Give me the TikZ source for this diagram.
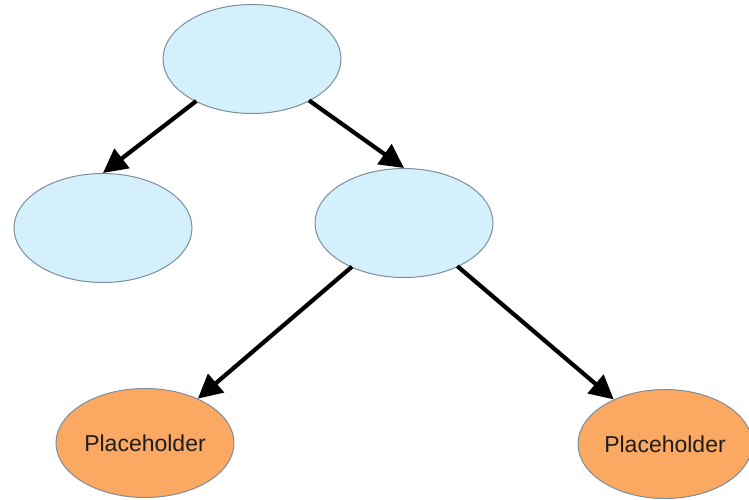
\documentclass[tikz,border=0pt]{standalone}
\usepackage{fontspec}
\setmainfont{Liberation Sans}
\usetikzlibrary{shapes.geometric,arrows.meta}
\definecolor{nodeblue}{HTML}{D5F0FD}
\definecolor{nodeorange}{HTML}{FBA862}
\definecolor{rimgray}{HTML}{7D8E9A}
\definecolor{labelink}{HTML}{1E1E1E}
\tikzset{
  blob/.style={ellipse, draw=rimgray, line width=1pt, inner sep=0pt,
    minimum width=178pt, minimum height=109pt},
  inner/.style={blob, fill=nodeblue},
  leaf/.style={blob, fill=nodeorange, text=labelink,
    font=\fontsize{23}{27}\selectfont},
  link/.style={line width=4.2pt, draw=black,
    -{Triangle[length=24pt,width=24pt]}, shorten <=-1pt}
}
\begin{document}
\begin{tikzpicture}[x=1pt,y=-1pt]
  \useasboundingbox (0,0) rectangle (749,499);
  \node[inner] (root)  at (252,59)  {};
  \node[inner] (left)  at (103,228) {};
  \node[inner] (mid)   at (404,223) {};
  \node[leaf]  (leafa) at (145,443) {Placeholder};
  \node[leaf, minimum width=174pt] (leafb) at (665,444) {Placeholder};
  \draw[link] (root.217) -- (left.north);
  \draw[link] (root.324) -- (mid.north);
  \draw[link] (mid.220)  -- (leafa.40);
  \draw[link] (mid.321)  -- (leafb.139);
\end{tikzpicture}
\end{document}
